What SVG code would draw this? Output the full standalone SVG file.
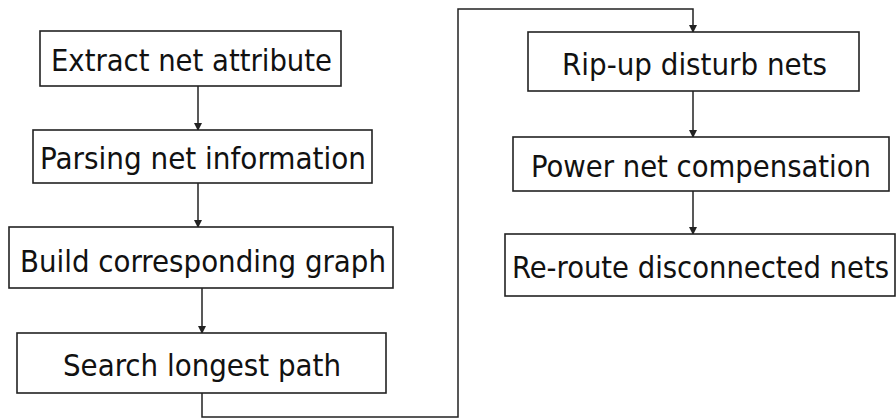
<svg xmlns="http://www.w3.org/2000/svg" width="896" height="419" viewBox="0 0 896 419">
<style>
.box{fill:#fff;stroke:#222;stroke-width:1.6}
.lbl{font-family:"DejaVu Sans Condensed","DejaVu Sans",Verdana,sans-serif;font-stretch:condensed;font-size:31px;fill:#111}
.con{fill:none;stroke:#222;stroke-width:1.5}
</style>
<defs>
<marker id="ah" markerWidth="8" markerHeight="9" refX="7" refY="4.5" orient="auto" markerUnits="userSpaceOnUse">
<path d="M0,0.5 L8,4.5 L0,8.5 Z" fill="#222"/>
</marker>
</defs>
<rect width="896" height="419" fill="#fff"/>
<g id="connectors">
<line class="con" x1="198" y1="86" x2="198" y2="130" marker-end="url(#ah)"/>
<line class="con" x1="198" y1="183" x2="198" y2="227" marker-end="url(#ah)"/>
<line class="con" x1="202" y1="288" x2="202" y2="333" marker-end="url(#ah)"/>
<polyline class="con" points="202,393 202,417 458,417 458,9 693,9 693,32" marker-end="url(#ah)"/>
<line class="con" x1="693" y1="91" x2="693" y2="137" marker-end="url(#ah)"/>
<line class="con" x1="693" y1="191" x2="693" y2="234" marker-end="url(#ah)"/>
</g>
<g id="n1"><rect class="box" x="40" y="31" width="301" height="55"/><text class="lbl" x="51" y="71" textLength="281" lengthAdjust="spacingAndGlyphs">Extract net attribute</text></g>
<g id="n2"><rect class="box" x="33" y="130" width="339" height="53"/><text class="lbl" x="40" y="169" textLength="326" lengthAdjust="spacingAndGlyphs">Parsing net information</text></g>
<g id="n3"><rect class="box" x="9" y="227" width="384" height="61"/><text class="lbl" x="20" y="272" textLength="366" lengthAdjust="spacingAndGlyphs">Build corresponding graph</text></g>
<g id="n4"><rect class="box" x="17" y="333" width="369" height="60"/><text class="lbl" x="63" y="376" textLength="278" lengthAdjust="spacingAndGlyphs">Search longest path</text></g>
<g id="n5"><rect class="box" x="528" y="32" width="331" height="59"/><text class="lbl" x="562" y="75" textLength="265" lengthAdjust="spacingAndGlyphs">Rip-up disturb nets</text></g>
<g id="n6"><rect class="box" x="513" y="137" width="376" height="54"/><text class="lbl" x="531" y="177" textLength="340" lengthAdjust="spacingAndGlyphs">Power net compensation</text></g>
<g id="n7"><rect class="box" x="505" y="234" width="390" height="62"/><text class="lbl" x="512" y="278" style="font-size:30px" textLength="377" lengthAdjust="spacingAndGlyphs">Re-route disconnected nets</text></g>
</svg>
